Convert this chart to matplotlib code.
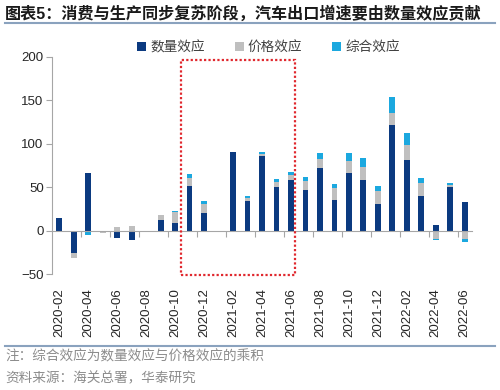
import numpy as np
import matplotlib
matplotlib.use("Agg")
import matplotlib.pyplot as plt
from matplotlib.patches import Rectangle

plt.rcParams['font.family'] = ['Liberation Sans', 'Noto Sans CJK SC', 'DejaVu Sans']

months = ['2020-02', '2020-03', '2020-04', '2020-05', '2020-06', '2020-07', '2020-08',
          '2020-09', '2020-10', '2020-11', '2020-12', '2021-01', '2021-02', '2021-03',
          '2021-04', '2021-05', '2021-06', '2021-07', '2021-08', '2021-09', '2021-10',
          '2021-11', '2021-12', '2022-01', '2022-02', '2022-03', '2022-04', '2022-05',
          '2022-06']
volume = [15, -26, 66, -1, -8, -11, 0, 12, 9, 51.5, 20, 0, 90.5, 34, 86, 50, 58,
          46.5, 72, 35, 66, 58, 30.5, 122, 81, 40, 7, 50, 33]
price = [0, -5, -1, -2, 4, 5, 0, 6, 12, 9, 11, 0, 0, 4, 2.7, 6, 6,
         10.7, 10, 14, 14, 15.6, 15, 14, 18, 15, -10, 3, -10]
combined = [0, 0, -4, 0, 0, 0, 0, 0.5, 2, 5, 3, 0, 0, 1.5, 1.5, 3.5, 4,
            5, 7, 5, 9.5, 10, 5.5, 17.5, 14, 6, -1, 1.5, -3]
series_names = ['数量效应', '价格效应', '综合效应']
colors = ['#0B3A80', '#BFBFBF', '#1BA8DF']
highlight = ('2020-11', '2021-06')

title = '图表5：消费与生产同步复苏阶段，汽车出口增速要由数量效应贡献'
note = '注：综合效应为数量效应与价格效应的乘积'
source = '资料来源：海关总署，华泰研究'

fig = plt.figure(figsize=(5, 3.9), dpi=100)
ax = fig.add_axes([0.104, 0.297, 0.84, 0.557])

x = np.arange(len(months))
pos_base = np.zeros(len(months))
neg_base = np.zeros(len(months))
for vals, name, c in zip([volume, price, combined], series_names, colors):
    v = np.array(vals, dtype=float)
    base = np.where(v >= 0, pos_base, neg_base)
    ax.bar(x, v, 0.4, bottom=base, color=c, label=name, zorder=2)
    pos_base += np.where(v > 0, v, 0)
    neg_base += np.where(v < 0, v, 0)

ax.set_xlim(-0.5, len(months) - 0.5)
ax.set_ylim(-50, 200)
ax.set_yticks(np.arange(-50, 201, 50))
ax.tick_params(axis='y', direction='out', length=4, width=0.8, color='#A6A6A6',
               labelsize=9.5, pad=2, labelcolor='#262626')

# category axis crosses at zero, labels stay at the bottom
ax.spines['bottom'].set_position(('data', 0))
ax.spines['bottom'].set_color('#A6A6A6')
ax.spines['left'].set_color('#A6A6A6')
ax.spines['top'].set_visible(False)
ax.spines['right'].set_visible(False)
ax.set_xticks(x[1::2] + 0.5)
ax.set_xticklabels([])
ax.tick_params(axis='x', direction='out', length=4, width=0.8, color='#A6A6A6')

sec = ax.secondary_xaxis('bottom')
sec.set_xticks(x[::2], [months[i] for i in x[::2]], rotation=90)
sec.tick_params(length=0, labelsize=9.5, pad=10, labelcolor='#262626')
sec.spines['bottom'].set_visible(False)

i0 = months.index(highlight[0])
i1 = months.index(highlight[1])
rect = Rectangle((i0 - 0.57, -51), i1 - i0 + 0.85, 247, fill=False,
                 edgecolor='#E0282E', lw=1.6, linestyle=(0, (1, 1)),
                 clip_on=False, zorder=3)
ax.add_patch(rect)

leg = fig.legend(loc='center', bbox_to_anchor=(0.537, 0.879), ncol=3, frameon=False,
                 fontsize=9.8, handlelength=0.65, handleheight=0.65,
                 handletextpad=0.3, columnspacing=2.2)
for t in leg.get_texts():
    t.set_color('#404040')

fig.text(0.01, 0.966, title, fontsize=11.6, fontweight='bold', va='center',
         ha='left', color='#1A1A1A')
fig.add_artist(plt.Line2D([0.01, 0.99], [0.942, 0.942], color='#8AA2BE', lw=1.5))
fig.add_artist(plt.Line2D([0.01, 0.99], [0.114, 0.114], color='#8AA2BE', lw=1.5))
fig.text(0.01, 0.085, note, fontsize=9.8, va='center', ha='left', color='#8C8C8C')
fig.text(0.01, 0.031, source, fontsize=9.8, va='center', ha='left', color='#8C8C8C')

fig.savefig('out.png', dpi=100)
